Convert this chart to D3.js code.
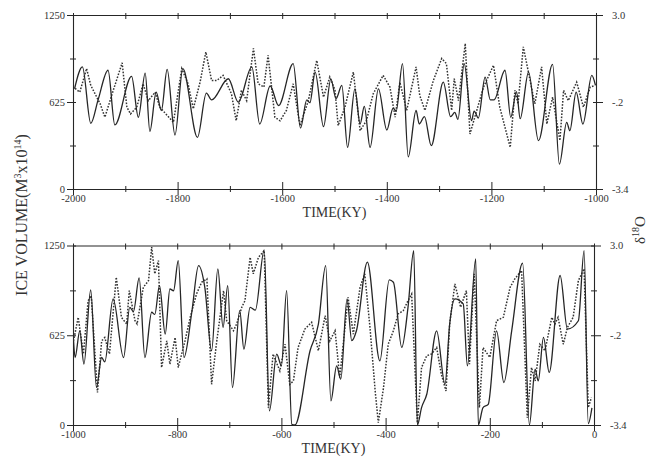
<!DOCTYPE html>
<html>
<head>
<meta charset="utf-8">
<script src="https://cdn.jsdelivr.net/npm/d3@7"></script>
<style>
  html, body { margin: 0; padding: 0; background: #fff; }
  svg text { font-family: "Liberation Serif", "DejaVu Serif", serif; fill: #333; }
</style>
</head>
<body>
<svg id="chart" width="665" height="463"></svg>
<script>
// ice volume model (solid) and d18O record (dotted)
// model: [time ky, ice volume], isotope: [time ky, d18O]
const topModel = [
  [-1997, 720], [-1982, 877], [-1966, 472], [-1952, 640], [-1933, 853], [-1920, 460],
  [-1888, 809], [-1875, 515], [-1862, 833], [-1853, 414], [-1841, 696], [-1831, 564],
  [-1820, 860], [-1805, 388], [-1790, 865], [-1762, 371], [-1745, 689], [-1735, 640],
  [-1703, 792], [-1684, 624], [-1658, 877], [-1643, 467], [-1623, 740], [-1607, 600],
  [-1579, 901], [-1565, 438], [-1553, 640], [-1547, 620], [-1537, 840], [-1521, 448],
  [-1507, 790], [-1497, 650], [-1486, 744], [-1475, 299], [-1461, 720], [-1451, 467],
  [-1443, 593], [-1432, 299], [-1416, 720], [-1400, 424], [-1388, 580], [-1382, 560],
  [-1370, 901], [-1359, 231], [-1344, 564], [-1338, 467], [-1328, 520], [-1315, 311],
  [-1292, 768], [-1278, 520], [-1270, 550], [-1264, 500], [-1252, 901], [-1238, 491],
  [-1233, 560], [-1225, 510], [-1212, 804], [-1202, 640], [-1195, 640], [-1174, 853],
  [-1163, 515], [-1152, 700], [-1145, 505], [-1129, 840], [-1110, 347], [-1083, 896],
  [-1070, 178], [-1056, 479], [-1050, 419], [-1038, 696], [-1025, 467], [-1008, 816],
  [-1001, 744]
];
const topIsotope = [
  [-1996, 0.3], [-1987, 0.16], [-1974, 1.03], [-1966, 0.41], [-1948, -0.27], [-1939, -0.76],
  [-1923, 0.23], [-1906, 1.24], [-1897, -0.39], [-1890, -0.64], [-1878, -0.39], [-1866, 0.47],
  [-1856, -0.15], [-1843, 0.16], [-1834, -0.39], [-1808, -0.95], [-1792, 1.03], [-1780, 0.47],
  [-1770, -0.45], [-1757, 0.53], [-1746, 1.64], [-1735, 0.59], [-1725, 0.59], [-1713, 0.78],
  [-1697, 0.10], [-1688, -0.89], [-1678, 0.23], [-1668, -0.15], [-1655, 1.77], [-1646, 0.47],
  [-1635, 0.35], [-1627, 1.52], [-1614, -0.76], [-1604, -0.89], [-1592, -0.51], [-1579, 0.47],
  [-1566, -1.07], [-1550, -0.15], [-1534, 1.33], [-1521, -0.02], [-1509, 0.72], [-1499, 0.23],
  [-1493, -1.07], [-1480, -0.39], [-1464, 0.90], [-1451, -1.25], [-1439, -0.89], [-1426, 0.10],
  [-1407, 0.78], [-1394, 0.35], [-1384, -0.76], [-1375, 0.53], [-1362, -0.51], [-1344, 1.09],
  [-1337, 0.04], [-1327, -0.51], [-1311, 0.59], [-1295, 1.40], [-1286, 1.21], [-1276, -0.51],
  [-1271, 0.66], [-1263, -0.15], [-1250, 1.95], [-1241, -1.38], [-1228, -0.51], [-1215, 0.35],
  [-1196, 1.15], [-1184, -0.39], [-1164, -1.87], [-1155, 0.23], [-1149, -0.27], [-1139, 1.83],
  [-1126, 0.59], [-1117, -0.27], [-1104, 1.09], [-1094, -1.01], [-1083, -0.02], [-1069, -1.62],
  [-1062, 0.23], [-1053, -0.15], [-1037, 0.53], [-1024, -0.39], [-1011, 0.35], [-1002, 0.41]
];
const bottomModel = [
  [-999, 587], [-996, 470], [-987, 656], [-979, 424], [-966, 940], [-955, 261],
  [-945, 470], [-939, 440], [-923, 878], [-903, 470], [-891, 819], [-884, 790],
  [-873, 1024], [-862, 470], [-849, 785], [-843, 770], [-834, 971], [-823, 633],
  [-814, 947], [-807, 935], [-798, 1145], [-787, 470], [-772, 785], [-759, 1110],
  [-747, 959], [-734, 517], [-722, 1087], [-712, 680], [-703, 971], [-694, 261],
  [-680, 796], [-672, 528], [-660, 819], [-650, 800], [-633, 1220], [-623, 98],
  [-609, 494], [-600, 412], [-590, 936], [-580, 5], [-574, 0], [-545, 517],
  [-529, 703], [-515, 1110], [-505, 168], [-494, 412], [-486, 319], [-474, 878],
  [-465, 587], [-456, 656], [-435, 1134], [-411, 447], [-393, 1010], [-385, 994],
  [-369, 540], [-357, 819], [-346, 1215], [-339, 0], [-331, 121], [-321, 214],
  [-302, 656], [-286, 284], [-277, 703], [-267, 878], [-251, 843], [-243, 412],
  [-227, 1157], [-222, 0], [-213, 121], [-203, 144], [-187, 656], [-173, 296],
  [-158, 656], [-137, 1127], [-124, 0], [-113, 389], [-107, 307], [-97, 610],
  [-86, 366], [-65, 1041], [-51, 668], [-30, 726], [-19, 1215], [-11, 10], [-4, 119]
];
const bottomIsotope = [
  [-999, -0.40], [-990, 0.44], [-980, -0.87], [-971, 1.03], [-965, 1.21], [-953, -2.24],
  [-945, -0.40], [-939, -0.28], [-930, -0.87], [-917, 1.87], [-907, 0.44], [-897, 0.20],
  [-892, 1.39], [-881, 0.32], [-877, 0.20], [-865, 1.51], [-855, 1.75], [-849, 2.94],
  [-843, 1.99], [-836, 2.46], [-830, -1.35], [-820, -0.40], [-814, -1.23], [-804, -0.28],
  [-798, -1.35], [-785, -0.40], [-775, 0.44], [-763, 1.27], [-753, 1.69], [-743, 1.81],
  [-734, -1.95], [-724, -0.40], [-711, 1.39], [-705, 0.32], [-692, -0.04], [-686, 0.20],
  [-676, 0.80], [-670, 1.03], [-660, 2.58], [-654, 1.99], [-644, 2.58], [-633, 2.82],
  [-625, -2.78], [-616, -0.87], [-603, -1.47], [-593, -0.52], [-584, -1.95], [-577, -1.83],
  [-568, -0.64], [-555, 0.02], [-542, 0.26], [-529, -0.75], [-516, 0.50], [-507, -0.40],
  [-497, -0.04], [-488, -1.71], [-472, 1.15], [-462, -0.16], [-449, 1.51], [-440, 1.99],
  [-430, 0.08], [-420, -2.19], [-414, -3.32], [-404, -2.07], [-395, -0.52], [-385, -0.04],
  [-376, 0.56], [-366, 0.68], [-357, 1.03], [-350, 1.27], [-339, -3.32], [-331, -1.35],
  [-321, -0.93], [-312, -0.87], [-302, -0.64], [-293, -1.59], [-284, -2.19], [-277, 0.20],
  [-267, 1.63], [-256, 0.80], [-245, 1.39], [-239, -1.23], [-230, 1.99], [-220, -2.78],
  [-213, -0.64], [-200, -0.99], [-187, 0.32], [-174, 0.44], [-161, 1.51], [-152, 1.81],
  [-139, 2.11], [-128, -3.14], [-120, -1.35], [-113, -1.83], [-104, -0.52], [-94, -0.75],
  [-81, 0.44], [-75, 0.20], [-69, 0.44], [-59, -0.52], [-51, 0.08], [-40, 0.44],
  [-30, 1.75], [-19, 2.17], [-11, -2.78], [-5, -2.42]
];

const volumeTicks = [0, 312.5, 625, 937.5, 1250];
const volumeLabels = { 0: "0", 625: "625", 1250: "1250" };
const isoTicks = [-3.4, -1.8, -0.2, 1.4, 3.0];
const isoLabels = { "-3.4": "-3.4", "-0.2": "-.2", "3": "3.0" };

const svg = d3.select("#chart");
const INK = "#262626";

function panel(id, domain, box, model, iso) {
  const x = d3.scaleLinear().domain(domain).range([box.x0, box.x1]);
  const yV = d3.scaleLinear().domain([0, 1250]).range([box.y1, box.y0]);
  const yD = d3.scaleLinear().domain([-3.4, 3.0]).range([box.y1, box.y0]);
  const g = svg.append("g");
  const hundreds = d3.range(domain[0], domain[1] + 1, 100);
  const isMajor = (d) => (d - domain[0]) % 200 === 0;

  // bottom axis: labelled every 200, small ticks between
  const bx = g.append("g").attr("transform", `translate(0,${box.y1})`)
    .call(d3.axisBottom(x).tickValues(hundreds).tickSize(0)
      .tickFormat((d) => (isMajor(d) ? String(d) : "")));
  bx.selectAll(".tick line")
    .attr("y1", (d) => (isMajor(d) ? -7 : -3)).attr("y2", (d) => (isMajor(d) ? 6 : 3));
  bx.selectAll(".tick text").attr("y", 6).attr("font-size", 10.5);

  // top border
  const tx = g.append("g").attr("transform", `translate(0,${box.y0})`)
    .call(d3.axisTop(x).tickValues(hundreds).tickSize(0).tickFormat(""));
  tx.selectAll(".tick line").attr("y1", -2).attr("y2", 4);

  // left: ice volume
  const ly = g.append("g").attr("transform", `translate(${box.x0},0)`)
    .call(d3.axisLeft(yV).tickValues(volumeTicks).tickSize(0)
      .tickFormat((d) => volumeLabels[d] || ""));
  ly.selectAll(".tick line").attr("x1", (d) => (volumeLabels[d] ? -6 : -3)).attr("x2", 3);
  ly.selectAll(".tick text").attr("x", -8).attr("font-size", 10.5);

  // right: d18O
  const ry = g.append("g").attr("transform", `translate(${box.x1},0)`)
    .call(d3.axisRight(yD).tickValues(isoTicks).tickSize(0)
      .tickFormat((d) => isoLabels[String(d)] || ""));
  ry.selectAll(".tick line").attr("x1", -3).attr("x2", (d) => (isoLabels[String(d)] ? 7 : 3));
  ry.selectAll(".tick text").attr("x", 16).attr("font-size", 10.5);

  g.selectAll(".domain").attr("stroke", INK).attr("stroke-width", 1.1);
  g.selectAll(".tick line").attr("stroke", INK);
  g.selectAll(".tick text").attr("fill", "#333")
    .attr("font-family", "'Liberation Serif', serif");

  svg.append("clipPath").attr("id", id)
    .append("rect").attr("x", box.x0).attr("y", box.y0 - 2)
    .attr("width", box.x1 - box.x0).attr("height", box.y1 - box.y0 + 2);

  g.append("path").datum(iso).attr("clip-path", `url(#${id})`)
    .attr("fill", "none").attr("stroke", "#333").attr("stroke-width", 1.5)
    .attr("stroke-dasharray", "1.6,1.5")
    .attr("d", d3.line().x((d) => x(d[0])).y((d) => yD(d[1])));

  g.append("path").datum(model).attr("clip-path", `url(#${id})`)
    .attr("fill", "none").attr("stroke", INK).attr("stroke-width", 1.3)
    .attr("d", d3.line().curve(d3.curveMonotoneX).x((d) => x(d[0])).y((d) => yV(d[1])));

  g.append("text").attr("x", (box.x0 + box.x1) / 2).attr("y", box.y1 + 28)
    .attr("text-anchor", "middle").attr("font-size", 14).text("TIME(KY)");
}

panel("clipTop", [-2000, -1000], { x0: 73, x1: 596, y0: 15, y1: 189 }, topModel, topIsotope);
panel("clipBottom", [-1000, 0], { x0: 73, x1: 594, y0: 245.5, y1: 425 }, bottomModel, bottomIsotope);

// y-axis titles
const left = svg.append("text").attr("transform", "translate(27,215) rotate(-90)")
  .attr("text-anchor", "middle").attr("font-size", 16);
left.append("tspan").text("ICE VOLUME(M");
left.append("tspan").attr("font-size", 10).attr("dy", -6).text("3");
left.append("tspan").attr("dy", 6).text("x10");
left.append("tspan").attr("font-size", 10).attr("dy", -6).text("14");
left.append("tspan").attr("dy", 6).text(")");

const right = svg.append("text").attr("transform", "translate(645,230) rotate(-90)")
  .attr("text-anchor", "middle").attr("font-size", 15);
right.append("tspan").text("δ");
right.append("tspan").attr("font-size", 10).attr("dy", -6).text("18");
right.append("tspan").attr("dy", 6).text("O");
</script>
</body>
</html>
